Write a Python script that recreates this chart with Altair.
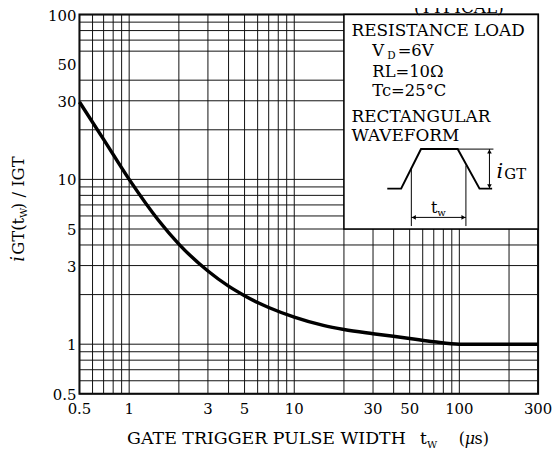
import altair as alt
import pandas as pd

# ---- curve data ----
tw = [0.5, 0.7, 1, 1.5, 2, 3, 4, 5, 6, 7, 10, 15, 20, 30, 50, 70, 100, 300]
ratio = [29.5, 17.5, 10, 5.67, 4.05, 2.78, 2.25, 1.97, 1.79, 1.67, 1.46, 1.30,
         1.228, 1.158, 1.084, 1.035, 1.0, 1.0]

# ---- grid / ticks ----
x_grid = [0.5, 0.6, 0.7, 0.8, 0.9, 1, 2, 3, 4, 5, 6, 7, 8, 9, 10,
          20, 30, 40, 50, 60, 70, 80, 90, 100, 200, 300]
y_grid = [0.5, 0.6, 0.7, 0.8, 0.9, 1, 2, 3, 4, 5, 6, 7, 8, 9, 10,
          20, 30, 40, 60, 70, 80, 90, 100]
x_ticks = [0.5, 1, 3, 5, 10, 30, 50, 100, 300]
x_labels = ["0.5", "1", "3", "5", "10", "30", "50", "100", "300"]
y_ticks = [0.5, 1, 3, 5, 10, 30, 50, 100]
y_labels = ["0.5", "1", "3", "5", "10", "30", "50", "100"]

# ---- inset box and waveform sketch (data coordinates) ----
box_x = [20, 300]
box_y = [5, 100]
wave_x = [36.6, 44.4, 58.6, 97.7, 132.5, 158.0]
wave_y = [8.79, 8.79, 15.27, 15.27, 8.79, 8.79]
seg_x1 = [51.2, 109.6, 51.2, 97.7, 152.2]
seg_y1 = [11.81, 12.14, 5.88, 15.27, 15.27]
seg_x2 = [51.2, 109.6, 109.6, 160.9, 152.2]
seg_y2 = [5.21, 5.21, 5.88, 15.27, 8.79]
head_x = [53.0, 105.9, 152.2, 152.2]
head_y = [5.88, 5.88, 14.75, 9.10]
head_shape = ["triangle-left", "triangle-right", "triangle-up", "triangle-down"]

FONT = "DejaVu Serif"
W, H = 462, 382

xs = alt.Scale(type="log", domain=[0.5, 300], nice=False)
ys = alt.Scale(type="log", domain=[0.5, 100], nice=False)

curve = alt.Chart(pd.DataFrame({"tw": tw, "ratio": ratio})).mark_line(
    color="black", strokeWidth=3.5, interpolate="monotone"
).encode(
    x=alt.X("tw:Q", scale=xs, axis=None),
    y=alt.Y("ratio:Q", scale=ys, axis=None),
)

vgrid = alt.Chart(pd.DataFrame({"v": x_grid})).mark_rule(
    color="#111111", strokeWidth=1
).encode(x=alt.X("v:Q", scale=xs, axis=None))

hgrid = alt.Chart(pd.DataFrame({"v": y_grid})).mark_rule(
    color="#111111", strokeWidth=1
).encode(y=alt.Y("v:Q", scale=ys, axis=None))

xlab = alt.Chart(pd.DataFrame({"v": x_ticks, "t": x_labels})).mark_text(
    font=FONT, fontSize=15, color="black", align="center", baseline="alphabetic"
).encode(x=alt.X("v:Q", scale=xs, axis=None), y=alt.value(H + 20), text="t:N")

ylab = alt.Chart(pd.DataFrame({"v": y_ticks, "t": y_labels})).mark_text(
    font=FONT, fontSize=15, color="black", align="right", baseline="middle", dy=1
).encode(y=alt.Y("v:Q", scale=ys, axis=None), x=alt.value(-3), text="t:N")

box = alt.Chart(pd.DataFrame({"x1": [box_x[0]], "x2": [box_x[1]],
                              "y1": [box_y[0]], "y2": [box_y[1]]})).mark_rect(
    fill="white", stroke="black", strokeWidth=1.5
).encode(
    x=alt.X("x1:Q", scale=xs, axis=None), x2="x2:Q",
    y=alt.Y("y1:Q", scale=ys, axis=None), y2="y2:Q",
)

wave = alt.Chart(pd.DataFrame({"x": wave_x, "y": wave_y,
                               "o": list(range(len(wave_x)))})).mark_line(
    color="black", strokeWidth=2
).encode(
    x=alt.X("x:Q", scale=xs, axis=None),
    y=alt.Y("y:Q", scale=ys, axis=None),
    order="o:Q",
)

segs = alt.Chart(pd.DataFrame({"x1": seg_x1, "y1": seg_y1,
                               "x2": seg_x2, "y2": seg_y2})).mark_rule(
    color="black", strokeWidth=1
).encode(
    x=alt.X("x1:Q", scale=xs, axis=None), x2="x2:Q",
    y=alt.Y("y1:Q", scale=ys, axis=None), y2="y2:Q",
)

heads = alt.Chart(pd.DataFrame({"x": head_x, "y": head_y,
                                "s": head_shape})).mark_point(
    filled=True, color="black", size=22, opacity=1
).encode(
    x=alt.X("x:Q", scale=xs, axis=None),
    y=alt.Y("y:Q", scale=ys, axis=None),
    shape=alt.Shape("s:N", scale=None, legend=None),
)

ONE = alt.Data(values=[{}])


def txt(s, x, y, size=16, style="normal", angle=0, align="left"):
    return alt.Chart(ONE).mark_text(
        font=FONT, fontSize=size, fontStyle=style, color="black",
        align=align, baseline="alphabetic", angle=angle
    ).encode(x=alt.value(x), y=alt.value(y), text=alt.value(s))


texts = [
    # header (cut off at the top edge, as in the reference)
    txt("(TYPICAL)", 337, -2, 17),
    # inset legend text
    txt("RESISTANCE LOAD", 274, 22, 17),
    txt("V", 295, 42, 16.5),
    txt("D", 310, 45, 10.5),
    txt("=6V", 320.5, 42, 16.5),
    txt("RL=10Ω", 295, 62.5, 16.5),
    txt("Tc=25°C", 295, 81.5, 16.5),
    txt("RECTANGULAR", 274, 108.5, 17),
    txt("WAVEFORM", 274, 127.5, 17),
    txt("t", 354, 200, 16),
    txt("w", 360.5, 202.5, 10),
    txt("i", 420, 164.5, 21, "italic"),
    txt("GT", 428, 165.5, 15),
    # x-axis title
    txt("GATE TRIGGER PULSE WIDTH", 48, 433, 17.5),
    txt("t", 343, 433, 17),
    txt("W", 350, 437, 10),
    txt("(", 382, 433, 16),
    txt("μ", 388, 433, 16, "italic"),
    txt("s)", 398, 433, 16),
    # y-axis title (rotated)
    txt("i", -56, 249, 18, "italic", 270),
    txt("GT(t", -56, 242, 16.5, "normal", 270),
    txt("W", -53, 205, 10, "normal", 270),
    txt(") / IGT", -56, 196, 16.5, "normal", 270),
]

chart = alt.layer(vgrid, hgrid, box, curve, wave, segs, heads, xlab, ylab,
                  *texts).properties(
    width=W, height=H,
    autosize=alt.AutoSizeParams(type="none"),
    padding={"left": 72, "top": 5, "right": 14, "bottom": 60},
).configure_view(stroke="black", strokeWidth=2)

chart.save("out.html", embed_options={"renderer": "svg", "actions": False})
